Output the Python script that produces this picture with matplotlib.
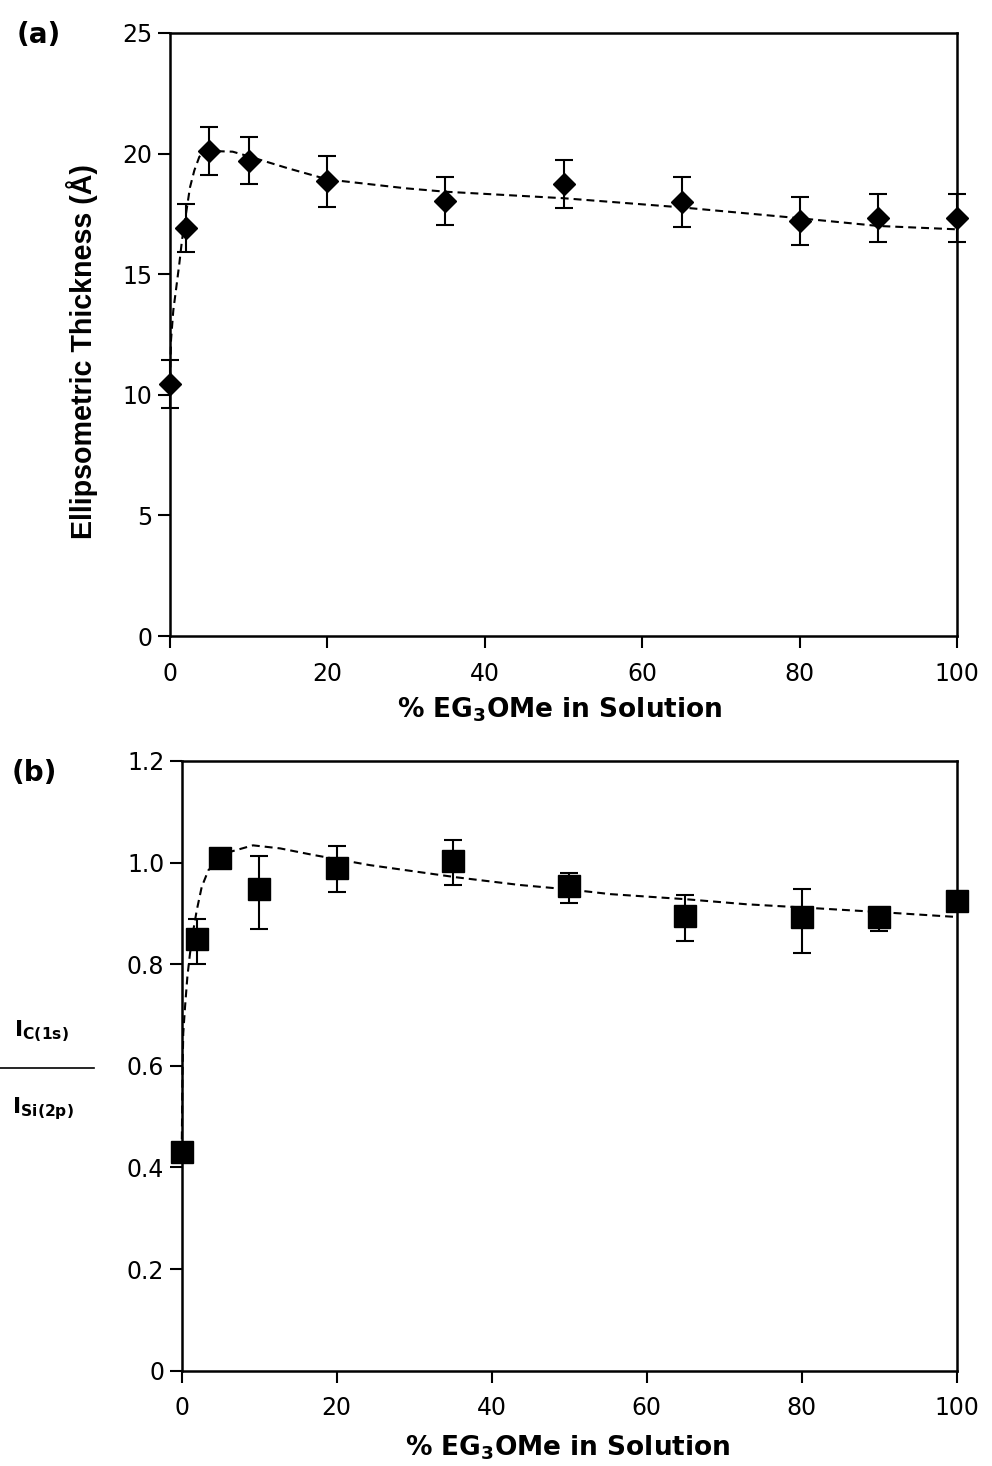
import matplotlib
matplotlib.use('Agg')
import matplotlib.pyplot as plt
from matplotlib.lines import Line2D

plt.rcParams['font.family'] = ['DejaVu Sans']
plt.rcParams['mathtext.fontset'] = 'dejavusans'
plt.rcParams['mathtext.default'] = 'bf'

# panel (a): ellipsometric thickness vs % EG3OMe
conc_a = [0, 2, 5, 10, 20, 35, 50, 65, 80, 90, 100]
thick = [10.45, 16.9, 20.1, 19.7, 18.85, 18.03, 18.74, 18.0, 17.22, 17.32, 17.32]
thick_err = [0.98, 1.0, 1.0, 0.97, 1.05, 1.0, 0.98, 1.03, 1.0, 1.0, 1.0]

# dashed fit
fit_a_x = [0, 0.13, 0.42, 0.76, 1.19, 1.52, 2.03, 2.54, 3.09, 3.73, 4.57, 6, 7.96,
           9.86, 15, 20, 30, 35, 50, 65, 80, 90, 100]
fit_a_y = [10.6, 12.27, 13.5, 14.35, 15.45, 16.4, 17.5, 18.6, 19.3, 19.87, 20.08, 20.1,
           20.08, 19.9, 19.39, 18.93, 18.56, 18.42, 18.15, 17.77, 17.32, 17.0, 16.86]

# panel (b): XPS C(1s)/Si(2p) ratio
conc_b = [0, 2, 5, 10, 20, 35, 50, 65, 80, 90, 100]
ratio = [0.431, 0.849, 1.010, 0.949, 0.990, 1.004, 0.954, 0.894, 0.893, 0.893, 0.925]
ratio_lo = [0.0, 0.049, 0.01, 0.079, 0.048, 0.049, 0.033, 0.048, 0.07, 0.028, 0.01]
ratio_hi = [0.0, 0.040, 0.01, 0.065, 0.042, 0.041, 0.026, 0.042, 0.055, 0.015, 0.01]

fit_b_x = [0, 0.1, 0.2, 0.43, 0.73, 1.07, 1.5, 1.94, 2.58, 3.44, 4.5, 6.2, 9.2, 12.7,
           17, 24.3, 35.5, 43.6, 50.1, 55.3, 65, 72.9, 79.8, 89.7, 100]
fit_b_y = [0.43, 0.58, 0.664, 0.716, 0.775, 0.821, 0.867, 0.906, 0.952, 0.985, 1.001,
           1.021, 1.034, 1.028, 1.015, 0.995, 0.971, 0.956, 0.947, 0.938, 0.928, 0.918,
           0.912, 0.903, 0.893]

yticks_a = [0, 5, 10, 15, 20, 25]
yticks_b = [0, 0.2, 0.4, 0.6, 0.8, 1.0, 1.2]
yticklabels_b = ['0', '0.2', '0.4', '0.6', '0.8', '1.0', '1.2']
xticks = [0, 20, 40, 60, 80, 100]

W, H = 992, 1466
fig = plt.figure(figsize=(W / 100, H / 100), dpi=100)
ax1 = fig.add_axes([170 / W, 1 - 636 / H, 787 / W, 603 / H])
ax2 = fig.add_axes([181.7 / W, 1 - 1370.7 / H, 775 / W, 609.7 / H])


def style(ax):
    for s in ax.spines.values():
        s.set_linewidth(1.8)
    ax.tick_params(direction='out', length=8.5, width=1.5, labelsize=17)
    ax.tick_params(axis='x', pad=10)
    ax.tick_params(axis='y', pad=4)
    ax.set_xlim(0, 100)
    ax.set_xticks(xticks)


dash = (0, (3.8, 2.4))

ax1.plot(fit_a_x, fit_a_y, ls=dash, color='k', lw=1.5, clip_on=False)
ax1.errorbar(conc_a, thick, yerr=thick_err, fmt='D', ms=11.7, color='k',
             ecolor='k', elinewidth=1.5, capsize=6.5, capthick=1.5, clip_on=False)
style(ax1)
ax1.set_ylim(0, 25)
ax1.set_yticks(yticks_a)

ax2.plot(fit_b_x, fit_b_y, ls=dash, color='k', lw=1.5, clip_on=False)
ax2.errorbar(conc_b, ratio, yerr=[ratio_lo, ratio_hi], fmt='s', ms=15.5, color='k',
             ecolor='k', elinewidth=1.5, capsize=6.5, capthick=1.5, clip_on=False)
style(ax2)
ax2.set_ylim(0, 1.2)
ax2.set_yticks(yticks_b)
ax2.set_yticklabels(yticklabels_b)

# labels
fig.text(17 / W, 1 - 35 / H, '(a)', fontsize=20, fontweight='bold', ha='left', va='center')
fig.text(12 / W, 1 - 773 / H, '(b)', fontsize=20, fontweight='bold', ha='left', va='center')
fig.text(82 / W, 1 - 352 / H, 'Ellipsometric Thickness (Å)', fontsize=20.6,
         fontweight='bold', rotation=90, ha='center', va='center',
         family=['Liberation Sans', 'DejaVu Sans'])
fig.text(560 / W, 1 - 710 / H, '% EG$_3$OMe in Solution', fontsize=19,
         fontweight='bold', ha='center', va='center')
fig.text(568 / W, 1 - 1448 / H, '% EG$_3$OMe in Solution', fontsize=19,
         fontweight='bold', ha='center', va='center')

fig.text(14 / W, 1 - 1036.7 / H, r'$\mathbf{I}_{\mathbf{C(1s)}}$', fontsize=16,
         ha='left', va='baseline')
fig.text(12 / W, 1 - 1113 / H, r'$\mathbf{I}_{\mathbf{Si(2p)}}$', fontsize=16,
         ha='left', va='baseline')
fig.add_artist(Line2D([0, 94 / W], [1 - 1067.7 / H] * 2, lw=1.2, color='k'))

fig.savefig('out.png', dpi=100)
